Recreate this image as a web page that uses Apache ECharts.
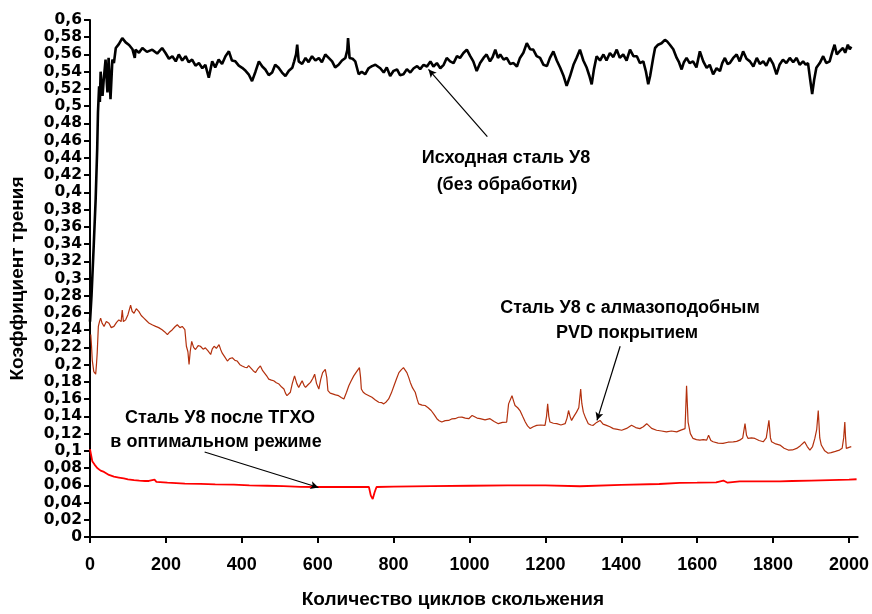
<!DOCTYPE html>
<html>
<head>
<meta charset="utf-8">
<script src="https://cdn.jsdelivr.net/npm/echarts@6/dist/echarts.min.js"></script>
<style>
html,body{margin:0;padding:0;background:#fff;}
#main{width:872px;height:614px;}
</style>
</head>
<body>
<div id="main"></div>
<script>
// Исходная сталь У8 (чёрная)
var blackX = [0,4,10,15,19,21,24,26,28,31,33,36,41,44,46,49,52,54,59,63,68,76,85,94,103,112,118,120,129,138,150,164,177,190,199,208,217,226,234,243,252,260,269,278,287,296,304,313,322,330,339,348,357,366,374,383,392,401,410,418,427,436,445,454,462,471,480,488,497,506,515,524,533,538,543,546,550,559,568,576,585,594,603,611,620,629,638,646,655,664,673,678,680,684,692,699,708,716,725,734,743,752,765,774,782,791,800,809,817,826,835,844,853,862,870,879,888,897,905,914,923,932,940,949,958,967,975,984,993,1002,1010,1019,1028,1037,1045,1054,1061,1068,1075,1081,1090,1098,1107,1116,1125,1133,1142,1151,1160,1168,1177,1186,1195,1204,1212,1221,1230,1239,1248,1256,1265,1274,1282,1291,1300,1309,1316,1322,1328,1335,1344,1353,1361,1370,1379,1388,1396,1405,1414,1423,1432,1441,1449,1458,1465,1471,1476,1484,1489,1497,1506,1515,1521,1528,1537,1546,1552,1559,1565,1572,1580,1589,1598,1607,1616,1625,1633,1642,1651,1660,1666,1673,1680,1686,1695,1704,1712,1721,1730,1739,1748,1757,1765,1774,1782,1791,1800,1809,1817,1826,1835,1844,1853,1862,1870,1879,1886,1892,1898,1903,1908,1914,1923,1932,1940,1949,1956,1962,1968,1975,1984,1990,1997,2002,2006];
var blackY = [0.25,0.28,0.34,0.393,0.451,0.493,0.523,0.505,0.54,0.52,0.512,0.53,0.554,0.53,0.516,0.556,0.53,0.508,0.554,0.55,0.5675,0.572,0.579,0.574,0.571,0.566,0.556,0.5656,0.562,0.5675,0.563,0.5656,0.561,0.5675,0.5617,0.555,0.558,0.552,0.56,0.553,0.558,0.551,0.554,0.547,0.55,0.544,0.548,0.533,0.552,0.545,0.554,0.549,0.558,0.5636,0.553,0.552,0.547,0.5445,0.541,0.537,0.529,0.54,0.552,0.546,0.5426,0.536,0.539,0.548,0.5445,0.539,0.535,0.541,0.5445,0.552,0.56,0.5713,0.552,0.549,0.556,0.551,0.558,0.553,0.556,0.551,0.56,0.556,0.552,0.545,0.548,0.553,0.556,0.565,0.579,0.556,0.555,0.552,0.537,0.54,0.537,0.544,0.5465,0.548,0.544,0.539,0.545,0.535,0.541,0.5426,0.536,0.537,0.543,0.539,0.544,0.5465,0.543,0.548,0.546,0.552,0.546,0.55,0.544,0.548,0.556,0.552,0.55,0.558,0.556,0.5617,0.5656,0.558,0.552,0.5407,0.55,0.556,0.56,0.552,0.557,0.5656,0.556,0.56,0.554,0.556,0.549,0.55,0.546,0.556,0.562,0.5732,0.566,0.5656,0.558,0.556,0.548,0.5465,0.556,0.5636,0.553,0.5445,0.535,0.5235,0.535,0.548,0.556,0.5656,0.553,0.5445,0.535,0.5254,0.543,0.558,0.553,0.56,0.553,0.5617,0.557,0.5656,0.556,0.56,0.553,0.5656,0.558,0.558,0.55,0.552,0.54,0.5254,0.535,0.556,0.5675,0.5713,0.573,0.577,0.575,0.5713,0.566,0.556,0.551,0.5426,0.551,0.556,0.55,0.552,0.545,0.5636,0.552,0.5445,0.548,0.537,0.544,0.5407,0.55,0.556,0.549,0.55,0.556,0.56,0.552,0.5636,0.555,0.552,0.546,0.556,0.549,0.552,0.547,0.556,0.549,0.537,0.548,0.554,0.55,0.556,0.551,0.556,0.548,0.552,0.548,0.55,0.53,0.5139,0.53,0.5445,0.55,0.558,0.55,0.552,0.563,0.5713,0.56,0.5636,0.5675,0.562,0.5713,0.566,0.569];

// Сталь У8 с алмазоподобным PVD покрытием (коричневая)
var brownX = [2,4,6,10,15,17,19,22,25,28,32,37,43,50,56,63,70,76,82,85,88,94,100,107,111,116,122,129,135,142,149,156,165,173,181,190,197,204,210,217,224,230,237,243,250,254,258,261,264,268,273,278,285,291,298,304,311,318,322,327,333,340,344,348,355,362,368,375,382,388,395,401,408,414,418,423,430,436,442,449,455,462,467,471,478,484,491,498,505,511,515,519,523,528,533,539,545,550,555,559,564,568,575,581,587,592,597,603,608,613,620,624,627,633,638,647,655,662,669,676,682,688,695,704,710,713,715,720,726,735,743,752,761,768,774,781,787,794,801,808,814,820,826,831,835,840,844,850,857,862,866,875,883,891,899,907,914,920,927,936,945,953,962,971,980,989,998,1007,1011,1020,1028,1041,1054,1065,1076,1087,1098,1103,1112,1116,1120,1127,1133,1140,1147,1153,1160,1168,1177,1188,1199,1203,1206,1209,1212,1221,1230,1241,1252,1257,1261,1265,1269,1275,1282,1288,1293,1296,1300,1306,1313,1320,1326,1335,1344,1352,1361,1370,1379,1390,1401,1414,1427,1438,1449,1458,1467,1480,1493,1506,1519,1532,1546,1557,1568,1572,1576,1582,1589,1598,1607,1616,1625,1630,1636,1642,1655,1668,1681,1695,1704,1712,1720,1726,1730,1734,1743,1752,1763,1774,1782,1789,1793,1796,1807,1818,1829,1840,1851,1862,1872,1883,1890,1897,1904,1910,1915,1919,1923,1927,1936,1945,1953,1962,1968,1975,1982,1986,1989,1991,1993,2000,2006];
var brownY = [0.235,0.222,0.205,0.192,0.189,0.2,0.2137,0.2444,0.25,0.254,0.248,0.2444,0.25,0.248,0.243,0.2444,0.249,0.252,0.25,0.2635,0.25,0.252,0.258,0.2692,0.262,0.2596,0.265,0.2615,0.257,0.254,0.251,0.248,0.246,0.2444,0.243,0.2406,0.238,0.2348,0.238,0.2406,0.244,0.2463,0.243,0.2444,0.2406,0.2214,0.215,0.2004,0.215,0.2271,0.22,0.2176,0.222,0.2214,0.218,0.2195,0.216,0.2118,0.218,0.2214,0.219,0.2233,0.218,0.2137,0.209,0.2042,0.207,0.208,0.205,0.2042,0.2,0.1985,0.197,0.1965,0.199,0.1985,0.193,0.1908,0.195,0.1985,0.193,0.189,0.186,0.1832,0.182,0.1813,0.179,0.1775,0.174,0.1717,0.167,0.164,0.166,0.168,0.178,0.187,0.178,0.1736,0.178,0.1813,0.176,0.1736,0.177,0.1794,0.184,0.189,0.178,0.1717,0.183,0.1908,0.1946,0.185,0.1698,0.167,0.166,0.165,0.164,0.162,0.1602,0.168,0.1755,0.181,0.187,0.1927,0.1965,0.185,0.1717,0.168,0.166,0.164,0.1621,0.159,0.1564,0.156,0.1545,0.157,0.1602,0.167,0.1755,0.184,0.1908,0.194,0.1965,0.195,0.1908,0.185,0.1794,0.173,0.168,0.16,0.1545,0.153,0.1526,0.15,0.1468,0.142,0.1373,0.135,0.1334,0.135,0.1353,0.137,0.1373,0.139,0.1392,0.138,0.1373,0.1411,0.1392,0.138,0.1373,0.136,0.1373,0.134,0.1315,0.133,0.1334,0.1545,0.164,0.158,0.1526,0.15,0.1468,0.14,0.1334,0.129,0.1258,0.128,0.1296,0.13,0.1296,0.14,0.1545,0.14,0.1334,0.132,0.1315,0.13,0.1315,0.138,0.1468,0.14,0.1353,0.14,0.1449,0.15,0.1717,0.155,0.1449,0.138,0.1315,0.13,0.1296,0.133,0.1353,0.131,0.1296,0.128,0.1258,0.125,0.1239,0.126,0.1296,0.127,0.1258,0.128,0.1315,0.126,0.1239,0.123,0.122,0.123,0.122,0.124,0.1258,0.1755,0.1334,0.12,0.1144,0.113,0.1124,0.113,0.1124,0.1182,0.112,0.1105,0.109,0.1086,0.11,0.1105,0.111,0.1124,0.115,0.1315,0.118,0.1144,0.115,0.1144,0.112,0.1105,0.115,0.1353,0.115,0.1105,0.108,0.1067,0.103,0.1009,0.101,0.1028,0.106,0.1105,0.105,0.1009,0.105,0.1144,0.125,0.1468,0.115,0.1067,0.1,0.0972,0.098,0.099,0.1,0.1009,0.103,0.115,0.1334,0.115,0.1028,0.104,0.1048];

// Сталь У8 после ТГХО (красная)
var redX = [0,3,6,12,19,28,37,50,63,76,89,100,116,130,145,150,155,170,175,204,250,291,330,379,420,467,510,555,600,650,700,735,740,745,750,755,800,900,1000,1100,1200,1291,1400,1500,1554,1600,1650,1669,1680,1712,1750,1818,1850,1900,1950,2000,2020];
var redY = [0.102,0.095,0.088,0.084,0.08,0.077,0.0755,0.072,0.07,0.069,0.068,0.067,0.066,0.0655,0.065,0.067,0.065,0.0665,0.064,0.063,0.062,0.0616,0.061,0.0608,0.06,0.0595,0.059,0.0582,0.058,0.0582,0.058,0.058,0.048,0.044,0.052,0.058,0.0585,0.059,0.0595,0.06,0.06,0.0589,0.0605,0.0615,0.0627,0.063,0.0635,0.0655,0.063,0.0646,0.0645,0.0645,0.065,0.0655,0.066,0.0665,0.067];

var xTicks = [0,200,400,600,800,1000,1200,1400,1600,1800,2000];

function pairs(xs, ys) {
    var out = [];
    for (var i = 0; i < xs.length; i++) {
        out.push([xs[i], ys[i]]);
    }
    return out;
}

var chart = echarts.init(document.getElementById('main'));
var font = 'Liberation Sans';

// подписи на поле графика
function note(x, y, text) {
    return {
        type: 'text', x: x, y: y, z: 10,
        style: {text: text, fill: '#000', font: 'bold 18px ' + font, textAlign: 'center', textVerticalAlign: 'middle'}
    };
}

var option = {
    animation: false,
    backgroundColor: '#fff',
    grid: {
        left: 89,
        right: 14,
        top: 20,
        bottom: 71
    },
    xAxis: {
        type: 'value',
        min: 0,
        max: 2023,
        name: 'Количество циклов скольжения',
        nameLocation: 'middle',
        nameGap: 53,
        nameTextStyle: {
            fontFamily: font,
            fontWeight: 'bold',
            fontSize: 19,
            color: '#000',
            padding: [0, 42, 0, 0]
        },
        axisLine: {lineStyle: {color: '#000', width: 2}},
        axisTick: {
            show: true,
            inside: false,
            length: 6,
            customValues: xTicks,
            lineStyle: {color: '#000', width: 2}
        },
        axisLabel: {
            customValues: xTicks,
            margin: 19,
            fontFamily: font,
            fontWeight: 'bold',
            fontSize: 18,
            color: '#000',
            formatter: function (v) { return String(v); }
        },
        splitLine: {show: false}
    },
    yAxis: {
        type: 'value',
        min: 0,
        max: 0.6,
        interval: 0.02,
        name: 'Коэффициент трения',
        nameLocation: 'middle',
        nameGap: 63,
        nameRotate: 90,
        nameTextStyle: {
            fontFamily: font,
            fontWeight: 'bold',
            fontSize: 19,
            color: '#000'
        },
        axisLine: {show: true, lineStyle: {color: '#000', width: 2}},
        axisTick: {show: true, length: 6, lineStyle: {color: '#000', width: 2}},
        axisLabel: {
            margin: 8,
            fontFamily: 'DejaVu Sans',
            fontWeight: 'bold',
            fontSize: 15.5,
            color: '#000',
            formatter: function (v) {
                return String(parseFloat(v.toFixed(2))).replace('.', ',');
            }
        },
        splitLine: {show: false}
    },
    series: [
        {
            name: 'Исходная сталь У8',
            type: 'line',
            data: pairs(blackX, blackY),
            showSymbol: false,
            lineStyle: {color: '#000', width: 2.6},
            z: 3
        },
        {
            name: 'Сталь У8 с алмазоподобным PVD покрытием',
            type: 'line',
            data: pairs(brownX, brownY),
            showSymbol: false,
            lineStyle: {color: '#b3300d', width: 1.2},
            z: 2
        },
        {
            name: 'Сталь У8 после ТГХО',
            type: 'line',
            data: pairs(redX, redY),
            showSymbol: false,
            lineStyle: {color: '#ff0000', width: 1.8},
            z: 2,
            markLine: {
                silent: true,
                symbol: ['none', 'arrow'],
                symbolSize: [6, 8],
                label: {show: false},
                lineStyle: {color: '#000', width: 1.2, type: 'solid'},
                data: [
                    [{coord: [1047, 0.4646]}, {coord: [892, 0.5426]}],
                    [{coord: [1397, 0.2214]}, {coord: [1336, 0.1354]}],
                    [{coord: [302, 0.0987]}, {coord: [602, 0.0574]}]
                ]
            }
        }
    ],
    graphic: [
        note(506, 158, 'Исходная сталь У8'),
        note(507, 185, '(без обработки)'),
        note(630, 308, 'Сталь У8 с алмазоподобным'),
        note(627, 333, 'PVD покрытием'),
        note(220, 418, 'Сталь У8 после ТГХО'),
        note(216, 442, 'в оптимальном режиме')
    ]
};

chart.setOption(option);
</script>
</body>
</html>
